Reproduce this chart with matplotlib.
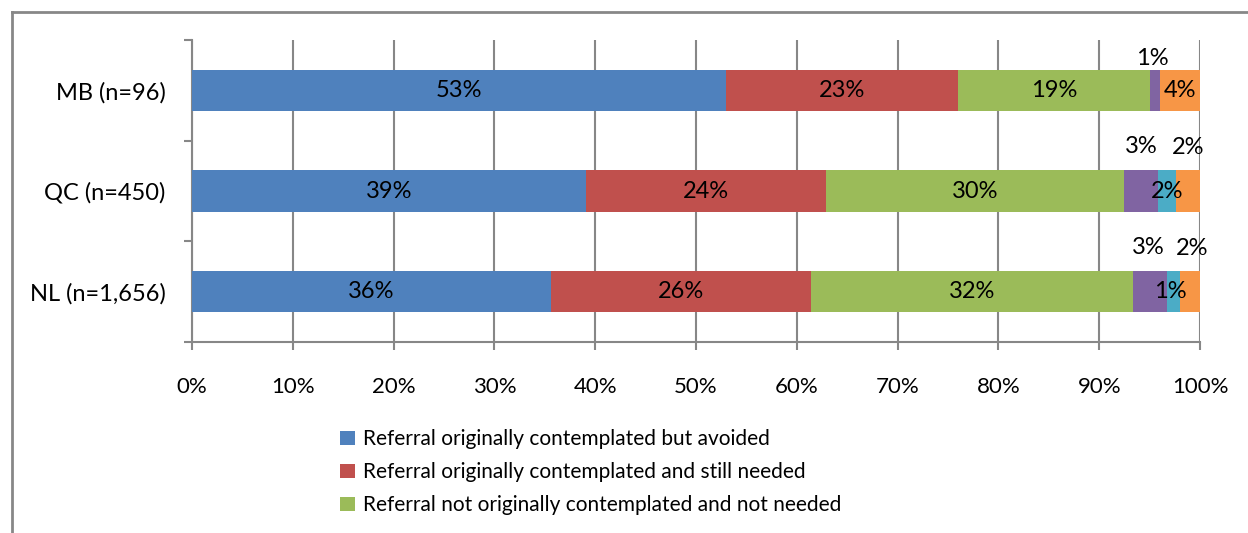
import matplotlib
matplotlib.use("Agg")
import matplotlib.pyplot as plt
from matplotlib.lines import Line2D
from matplotlib.patches import Patch

plt.rcParams['font.family'] = ['Lato', 'DejaVu Sans']

# Survey sites (top to bottom)
sites = ["MB (n=96)", "QC (n=450)", "NL (n=1,656)"]

# Share of responses per outcome, in percent
avoided = [53.0, 39.1, 35.6]
still_needed = [23.0, 23.8, 25.8]
not_needed = [19.0, 29.6, 32.0]
other_a = [1.0, 3.3, 3.3]
other_b = [0.0, 1.8, 1.3]
other_c = [4.0, 2.4, 2.0]

series_names = [
    "Referral originally contemplated but avoided",
    "Referral originally contemplated and still needed",
    "Referral not originally contemplated and not needed",
    None, None, None,
]
series = [avoided, still_needed, not_needed, other_a, other_b, other_c]
colors = ["#4F81BD", "#C0504D", "#9BBB59", "#8064A2", "#4BACC6", "#F79646"]

xticks = [0, 10, 20, 30, 40, 50, 60, 70, 80, 90, 100]

# label offsets (points) for the narrow segments whose labels sit outside the bar
label_offsets = {
    (3, 0): (-1.5, 23), (5, 0): (0, 0),
    (3, 1): (0, 32), (4, 1): (0, 0), (5, 1): (0, 31),
    (3, 2): (-1.5, 32), (4, 2): (-2, 0), (5, 2): (1.5, 31),
}

W, H = 1248, 533
fig = plt.figure(figsize=(W / 100, H / 100), dpi=100)
ax = fig.add_axes([192 / W, 1 - 342 / H, 1008 / W, 302 / H])

ypos = [2, 1, 0]
left = [0.0] * len(sites)
grid_col = "#878787"
for si, (vals, col) in enumerate(zip(series, colors)):
    ax.barh(ypos, vals, left=left, height=0.41, color=col, zorder=3)
    for ci, v in enumerate(vals):
        if v > 0:
            cx = left[ci] + v / 2
            dx, dy = label_offsets.get((si, ci), (0, 0))
            ax.annotate(f"{v:.0f}%", (cx, ypos[ci]), xytext=(dx, dy),
                        textcoords="offset points", ha="center", va="center",
                        fontsize=17, color="#000000", zorder=5)
    left = [l + v for l, v in zip(left, vals)]

ax.set_xlim(0, 100)
ax.set_ylim(-0.5, 2.5)
ax.set_xticks(xticks)
ax.set_xticklabels([f"{t}%" for t in xticks], fontsize=16)
ax.set_yticks(ypos)
ax.set_yticklabels(sites, fontsize=17)
ax.set_yticks([-0.5, 0.5, 1.5, 2.5], minor=True)

ax.tick_params(axis="y", which="major", length=0, pad=19)
ax.tick_params(axis="y", which="minor", length=6, width=1.5, color=grid_col, direction="out")
ax.tick_params(axis="x", which="major", length=6, width=1.5, color=grid_col, direction="out", pad=19)

ax.grid(axis="x", color=grid_col, linewidth=1.5, zorder=0)
for side in ["top", "right"]:
    ax.spines[side].set_visible(False)
for side in ["left", "bottom"]:
    ax.spines[side].set_color(grid_col)
    ax.spines[side].set_linewidth(1.5)

# legend for the three main outcomes
handles = [Patch(facecolor=c, edgecolor="none") for c, n in zip(colors, series_names) if n]
labels = [n for n in series_names if n]
fig.legend(handles, labels, loc="upper left", bbox_to_anchor=(332 / W, 1 - 421 / H),
           frameon=False, fontsize=15, handlelength=0.7, handleheight=0.7,
           handletextpad=0.4, labelspacing=0.62, borderaxespad=0)

# chart-area border
fx, fy = 11.5 / W, 1 - 11.5 / H
fig.add_artist(Line2D([fx, fx], [0, fy], color=grid_col, linewidth=2))
fig.add_artist(Line2D([fx, 1], [fy, fy], color=grid_col, linewidth=2))

fig.savefig("out.png", dpi=100)
